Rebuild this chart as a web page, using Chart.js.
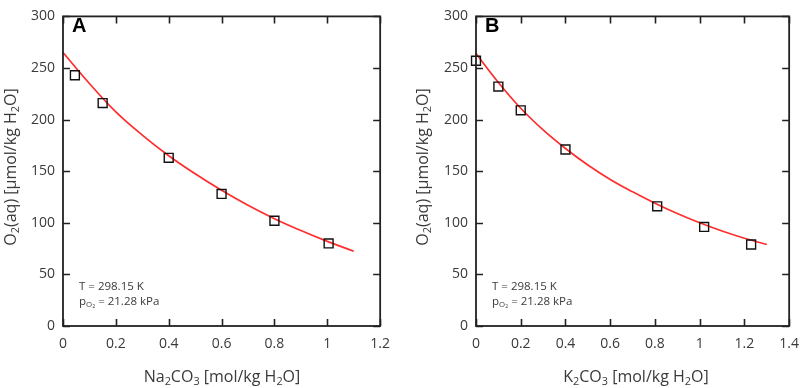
<!DOCTYPE html>
<html>
<head>
<meta charset="utf-8">
<script src="https://cdn.jsdelivr.net/npm/chart.js@4.4.1/dist/chart.umd.min.js"></script>
<style>
  html, body { margin: 0; padding: 0; background: #fff; }
  #wrap { position: relative; width: 809px; height: 388px; overflow: hidden; background: #fff; }
  canvas { position: absolute; top: 0; }
  .t { position: absolute; white-space: nowrap; color: #3a3a3a; font-family: "Open Sans", sans-serif; }
  .xt { font-size: 16px; line-height: 16px; text-align: center; width: 300px; }
  .yt { font-size: 16px; line-height: 16px; text-align: center; width: 240px; transform: rotate(-90deg); transform-origin: 50% 50%; }
  .an { font-size: 11.5px; line-height: 15px; }
  .lt { position: absolute; font-family: "Liberation Sans", Arial, sans-serif; font-weight: bold; font-size: 20px; line-height: 20px; color: #000; }
  sub { font-size: 0.68em; vertical-align: -0.25em; line-height: 0; }
</style>
</head>
<body>
<div id="wrap">
  <canvas id="cA" width="400" height="388" style="left:0;width:400px;height:388px"></canvas>
  <canvas id="cB" width="409" height="388" style="left:400px;width:409px;height:388px"></canvas>

  <div class="lt" style="left:72px;top:15px">A</div>
  <div class="lt" style="left:485px;top:15px">B</div>

  <div class="t an" style="left:79px;top:278px">T = 298.15 K<br>p<sub>O<sub>2</sub></sub> = 21.28 kPa</div>
  <div class="t an" style="left:492px;top:278px">T = 298.15 K<br>p<sub>O<sub>2</sub></sub> = 21.28 kPa</div>

  <div class="t xt" style="left:72px;top:368px">Na<sub>2</sub>CO<sub>3</sub> [mol/kg H<sub>2</sub>O]</div>
  <div class="t xt" style="left:486px;top:368px">K<sub>2</sub>CO<sub>3</sub> [mol/kg H<sub>2</sub>O]</div>

  <div class="t yt" style="left:-110px;top:159px">O<sub>2</sub>(aq) [µmol/kg H<sub>2</sub>O]</div>
  <div class="t yt" style="left:302px;top:159px">O<sub>2</sub>(aq) [µmol/kg H<sub>2</sub>O]</div>
</div>

<script>
// ---- Data ----
const naX = [0.045, 0.15, 0.4, 0.6, 0.8, 1.005];
const naY = [243, 216, 163, 128, 102, 80];
const naFitX = [0, 0.1, 0.2, 0.3, 0.4, 0.5, 0.6, 0.7, 0.8, 0.9, 1.0, 1.1];
const naFitY = [265, 235, 207.5, 185, 165, 147.5, 131.5, 117, 104, 92.5, 82, 72.5];

const kX = [0, 0.1, 0.2, 0.4, 0.81, 1.02, 1.23];
const kY = [257, 232, 209, 171, 116, 96, 79];
const kFitX = [0, 0.1, 0.2, 0.3, 0.4, 0.5, 0.6, 0.7, 0.8, 0.9, 1.0, 1.1, 1.2, 1.3];
const kFitY = [264, 236, 211, 190, 172, 156, 142, 130, 119, 109, 100, 92, 85, 79];

const xMaxA = 1.2, xMaxB = 1.4, xStep = 0.2;
const yMin = 0, yMax = 300, yStep = 50;

function pts(xs, ys) { return xs.map((x, i) => ({ x: x, y: ys[i] })); }

const frameTicks = {
  id: 'frameTicks',
  afterDraw(chart) {
    const ctx = chart.ctx, a = chart.chartArea;
    const xs = chart.scales.x, ys = chart.scales.y;
    const L = 7;
    ctx.save();
    ctx.strokeStyle = '#222';
    ctx.lineWidth = 1.6;
    ctx.beginPath();
    xs.ticks.forEach(t => {
      const p = Math.round(xs.getPixelForValue(t.value)) + 0.5;
      ctx.moveTo(p, a.bottom); ctx.lineTo(p, a.bottom - L);
      ctx.moveTo(p, a.top); ctx.lineTo(p, a.top + L);
    });
    ys.ticks.forEach(t => {
      const p = Math.round(ys.getPixelForValue(t.value)) + 0.5;
      ctx.moveTo(a.left, p); ctx.lineTo(a.left + L, p);
      ctx.moveTo(a.right, p); ctx.lineTo(a.right - L, p);
    });
    ctx.stroke();
    ctx.lineWidth = 1.8;
    ctx.strokeRect(a.left, a.top, a.right - a.left, a.bottom - a.top);
    ctx.restore();
  }
};

const fmt = v => String(Math.round(v * 10) / 10);

function makeChart(id, meas, fit, xMax, yAxisWidth, rightPad) {
  return new Chart(document.getElementById(id), {
    type: 'scatter',
    data: {
      datasets: [
        {
          data: fit, showLine: true, pointRadius: 0, borderColor: 'rgb(255,45,45)',
          borderWidth: 1.7, tension: 0.4, fill: false, clip: false, order: 2
        },
        {
          data: meas, showLine: false, pointStyle: 'rect', pointRadius: 6.3,
          pointBorderColor: '#111', pointBorderWidth: 1.4,
          pointBackgroundColor: 'rgba(0,0,0,0)', clip: false, order: 1
        }
      ]
    },
    options: {
      responsive: false, animation: false, devicePixelRatio: 1,
      layout: { padding: { top: 7, right: rightPad, left: 0, bottom: 0 } },
      plugins: { legend: { display: false }, tooltip: { enabled: false } },
      scales: {
        x: {
          type: 'linear', min: 0, max: xMax,
          ticks: { stepSize: xStep, color: '#3a3a3a', padding: 10, font: { family: 'Open Sans', size: 14 }, callback: fmt },
          grid: { display: false, drawTicks: false }, border: { display: false },
          afterFit(s) { s.height = 62; }
        },
        y: {
          type: 'linear', min: yMin, max: yMax,
          ticks: { stepSize: yStep, color: '#3a3a3a', padding: 8, font: { family: 'Open Sans', size: 14 }, callback: fmt },
          grid: { display: false, drawTicks: false }, border: { display: false },
          afterFit(s) { s.width = yAxisWidth; }
        }
      }
    },
    plugins: [frameTicks]
  });
}

makeChart('cA', pts(naX, naY), pts(naFitX, naFitY), xMaxA, 63, 18);
makeChart('cB', pts(kX, kY), pts(kFitX, kFitY), xMaxB, 76, 13);
</script>
</body>
</html>
